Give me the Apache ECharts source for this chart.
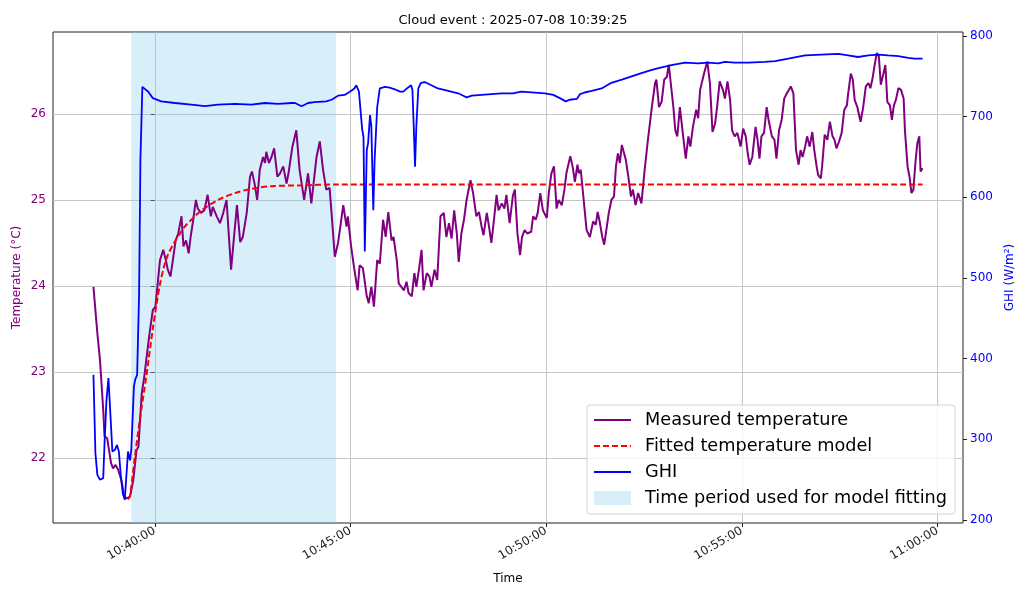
<!DOCTYPE html>
<html lang="en">
<head>
    <meta charset="UTF-8">
    <title>Cloud event</title>
    <script src="https://cdn.jsdelivr.net/npm/echarts@6/dist/echarts.min.js"></script>
    <style>
        html, body { margin: 0; padding: 0; background: #fff; }
    </style>
</head>
<body>
    <div id="main" style="width: 1024px;height:597px;"></div>
    <script type="text/javascript">

        // x values are seconds after 10:40:00
        const timeTicks = [0, 300, 600, 900, 1200];
        const tempTicks = [22, 23, 24, 25, 26];
        const ghiTicks = [200, 300, 400, 500, 600, 700, 800];
        const fitWindow = [-36, 278];

        const measuredTemp = [
            [-94, 23.99], [-88, 23.45], [-84, 23.14], [-79, 22.56], [-77, 22.25], [-73, 22.23], [-67, 21.94],
            [-64, 21.88], [-60, 21.92], [-56, 21.86], [-51, 21.74], [-47, 21.55], [-43, 21.53], [-38, 21.55],
            [-33, 21.74], [-28, 22.09], [-25, 22.13], [-20, 22.75], [-16, 22.95], [-13, 23.14], [-8, 23.45],
            [-3, 23.72], [1, 23.76], [4, 23.99], [8, 24.30], [13, 24.42], [17, 24.30], [20, 24.19], [24, 24.11],
            [27, 24.26], [32, 24.53], [36, 24.61], [41, 24.81], [44, 24.46], [48, 24.53], [52, 24.38], [55, 24.57],
            [59, 24.77], [63, 25.00], [66, 24.90], [71, 24.85], [76, 24.88], [81, 25.06], [86, 24.81], [89, 24.92],
            [95, 24.81], [100, 24.73], [105, 24.85], [110, 25.00], [117, 24.19], [121, 24.53], [126, 24.94],
            [131, 24.51], [135, 24.57], [141, 24.85], [146, 25.27], [149, 25.33], [153, 25.19], [157, 25.00],
            [161, 25.35], [166, 25.50], [169, 25.43], [171, 25.56], [175, 25.43], [179, 25.50], [183, 25.60],
            [188, 25.27], [192, 25.31], [197, 25.39], [202, 25.19], [205, 25.31], [211, 25.62], [217, 25.81],
            [222, 25.35], [229, 25.00], [235, 25.31], [240, 24.96], [248, 25.50], [253, 25.68], [258, 25.35],
            [263, 25.12], [268, 25.14], [271, 24.85], [276, 24.34], [281, 24.50], [289, 24.94], [294, 24.69],
            [296, 24.81], [301, 24.46], [306, 24.19], [311, 23.95], [314, 24.24], [319, 24.21], [325, 23.88],
            [328, 23.80], [332, 23.99], [336, 23.76], [341, 24.30], [345, 24.26], [350, 24.77], [354, 24.57],
            [358, 24.86], [363, 24.53], [366, 24.57], [371, 24.30], [374, 24.03], [378, 23.99], [382, 23.95],
            [386, 24.05], [389, 23.92], [394, 23.88], [398, 24.15], [401, 23.99], [405, 24.19], [409, 24.42],
            [412, 23.95], [417, 24.15], [421, 24.11], [424, 23.99], [429, 24.19], [433, 24.07], [438, 24.81],
            [443, 24.85], [447, 24.57], [451, 24.73], [455, 24.55], [459, 24.88], [463, 24.61], [466, 24.28],
            [470, 24.61], [474, 24.77], [478, 25.00], [484, 25.23], [488, 25.08], [493, 24.81], [497, 24.86],
            [501, 24.69], [504, 24.59], [509, 24.85], [512, 24.71], [516, 24.50], [520, 24.77], [524, 25.06],
            [527, 24.88], [532, 24.96], [536, 24.90], [539, 25.06], [544, 24.73], [549, 25.05], [552, 25.12],
            [556, 24.61], [560, 24.36], [563, 24.57], [567, 24.65], [571, 24.61], [577, 24.63], [580, 24.81],
            [584, 24.77], [587, 24.85], [591, 25.08], [595, 24.88], [601, 24.79], [604, 25.08], [608, 25.31],
            [612, 25.39], [616, 24.90], [619, 25.00], [624, 24.94], [628, 25.12], [631, 25.31], [637, 25.51],
            [641, 25.37], [644, 25.21], [648, 25.41], [650, 25.31], [653, 25.35], [657, 25.04], [662, 24.65],
            [667, 24.57], [672, 24.75], [676, 24.71], [679, 24.86], [682, 24.75], [686, 24.57], [689, 24.48],
            [693, 24.69], [696, 24.85], [700, 25.00], [704, 25.04], [707, 25.39], [710, 25.54], [713, 25.43],
            [716, 25.64], [722, 25.47], [726, 25.27], [730, 25.04], [733, 25.12], [737, 24.94], [741, 25.08],
            [746, 24.96], [751, 25.35], [756, 25.70], [762, 26.08], [767, 26.36], [769, 26.40], [773, 26.08],
            [777, 26.14], [781, 26.40], [785, 26.43], [788, 26.57], [791, 26.36], [795, 26.08], [798, 25.81],
            [801, 25.74], [805, 26.08], [810, 25.74], [814, 25.48], [818, 25.74], [821, 25.62], [825, 25.85],
            [830, 26.05], [833, 25.95], [836, 26.28], [842, 26.47], [847, 26.61], [851, 26.36], [855, 25.79],
            [859, 25.89], [862, 26.08], [866, 26.38], [869, 26.40], [871, 26.28], [874, 26.18], [878, 26.38],
            [882, 26.16], [885, 25.81], [889, 25.74], [893, 25.78], [895, 25.72], [898, 25.62], [902, 25.83],
            [906, 25.74], [909, 25.54], [912, 25.41], [916, 25.50], [921, 25.85], [924, 25.70], [927, 25.48],
            [930, 25.74], [934, 25.78], [938, 26.08], [941, 25.93], [946, 25.74], [950, 25.70], [953, 25.48],
            [957, 25.81], [961, 25.93], [965, 26.18], [969, 26.24], [972, 26.28], [975, 26.32], [979, 26.24],
            [983, 25.58], [987, 25.41], [990, 25.58], [993, 25.50], [997, 25.62], [1000, 25.74], [1004, 25.62],
            [1008, 25.79], [1011, 25.58], [1015, 25.37], [1017, 25.29], [1021, 25.25], [1023, 25.39], [1027, 25.76],
            [1031, 25.70], [1035, 25.91], [1039, 25.74], [1042, 25.70], [1045, 25.60], [1049, 25.68], [1053, 25.78],
            [1057, 26.05], [1061, 26.10], [1063, 26.24], [1067, 26.47], [1070, 26.40], [1073, 26.16], [1077, 26.08],
            [1082, 25.91], [1086, 26.08], [1090, 26.32], [1094, 26.36], [1097, 26.30], [1100, 26.40], [1104, 26.59],
            [1107, 26.71], [1110, 26.67], [1113, 26.34], [1117, 26.47], [1120, 26.57], [1123, 26.14], [1127, 26.10],
            [1130, 25.93], [1133, 26.10], [1136, 26.16], [1140, 26.30], [1144, 26.28], [1148, 26.18], [1150, 25.81],
            [1154, 25.39], [1157, 25.27], [1160, 25.08], [1163, 25.12], [1166, 25.43], [1169, 25.66], [1172, 25.74],
            [1174, 25.33], [1177, 25.37]
        ];

        const fittedTemp = [
            [-41, 21.52], [-38, 21.56], [-31, 21.98], [-23, 22.44], [-13, 22.95], [-3, 23.50], [3, 23.80],
            [8, 24.02], [14, 24.22], [20, 24.36], [28, 24.48], [36, 24.58], [46, 24.69], [56, 24.77],
            [72, 24.88], [97, 25.00], [123, 25.08], [148, 25.13], [179, 25.16], [225, 25.17], [278, 25.18],
            [1177, 25.18]
        ];

        const ghi = [
            [-94, 380], [-91, 283], [-88, 256], [-84, 250], [-79, 252], [-77, 295], [-74, 349], [-71, 376],
            [-67, 316], [-65, 285], [-61, 287], [-58, 293], [-55, 285], [-52, 254], [-49, 233], [-46, 225],
            [-43, 227], [-41, 285], [-38, 274], [-36, 287], [-32, 365], [-30, 374], [-27, 380], [-24, 481],
            [-22, 646], [-19, 737], [-16, 739], [-10, 731], [-3, 723], [10, 719], [31, 717], [56, 715],
            [77, 713], [97, 715], [123, 716], [148, 715], [169, 717], [189, 716], [210, 717], [215, 717],
            [225, 713], [235, 717], [245, 718], [263, 719], [271, 721], [281, 726], [291, 727], [299, 731],
            [306, 735], [309, 739], [313, 731], [316, 729], [318, 684], [320, 675], [322, 533], [325, 659],
            [327, 667], [330, 702], [332, 688], [335, 584], [337, 646], [341, 712], [345, 735], [353, 737],
            [360, 736], [368, 734], [376, 731], [381, 731], [388, 736], [393, 739], [395, 733], [397, 688],
            [399, 638], [401, 688], [404, 735], [408, 742], [414, 743], [424, 739], [434, 735], [450, 732],
            [465, 729], [473, 726], [478, 724], [486, 726], [501, 727], [516, 728], [532, 729], [549, 729],
            [562, 731], [598, 729], [611, 727], [621, 723], [630, 719], [636, 721], [647, 722], [652, 728],
            [659, 730], [670, 732], [685, 735], [700, 742], [716, 746], [731, 750], [746, 754], [762, 758],
            [777, 761], [792, 764], [813, 767], [833, 766], [848, 767], [864, 766], [874, 768], [889, 767],
            [910, 767], [935, 768], [951, 769], [971, 772], [997, 776], [1022, 777], [1048, 778], [1063, 776],
            [1078, 774], [1094, 776], [1109, 777], [1124, 776], [1140, 775], [1155, 773], [1165, 772], [1177, 772]
        ];

        function clock(s) {
            const t = 10 * 3600 + 40 * 60 + s;
            const pad = function (n) { return (n < 10 ? '0' : '') + n; };
            return pad(Math.floor(t / 3600)) + ':' + pad(Math.floor(t / 60) % 60) + ':' + pad(t % 60);
        }

        var chartDom = document.getElementById('main');
        var myChart = echarts.init(chartDom, null, { renderer: 'canvas' });
        var font = 'DejaVu Sans';
        var shade = 'rgba(135,206,235,0.32)';
        var option;

        option = {
            animation: false,
            backgroundColor: '#fff',
            textStyle: { fontFamily: font },
            title: {
                text: 'Cloud event : 2025-07-08 10:39:25',
                left: 508,
                top: 9,
                textAlign: 'center',
                textStyle: { fontFamily: font, fontSize: 13, fontWeight: 'normal', color: '#000' }
            },
            grid: {
                left: 53,
                right: 61,
                top: 32,
                bottom: 74,
                show: true,
                borderColor: '#222',
                borderWidth: 1,
                containLabel: false
            },
            legend: {
                orient: 'vertical',
                left: 587,
                top: 405,
                padding: [6, 8, 7, 6],
                itemGap: 8,
                itemWidth: 37,
                itemHeight: 14,
                backgroundColor: 'rgba(255,255,255,0.8)',
                borderColor: '#d4d4d4',
                borderWidth: 1,
                borderRadius: 3,
                // hide the marker dot, keep the line sample
                itemStyle: { opacity: 0 },
                textStyle: { fontFamily: font, fontSize: 17.7, color: '#000', padding: [0, 0, 0, 9] },
                data: [
                    { name: 'Measured temperature' },
                    { name: 'Fitted temperature model' },
                    { name: 'GHI' },
                    { name: 'Time period used for model fitting', icon: 'rect', itemStyle: { opacity: 1, color: shade } }
                ]
            },
            xAxis: {
                type: 'value',
                min: -156,
                max: 1239,
                name: 'Time',
                nameLocation: 'middle',
                nameGap: 50,
                nameMoveOverlap: false,
                nameTextStyle: { fontFamily: font, fontSize: 12, color: '#000' },
                axisLine: { show: false },
                axisTick: { show: true, length: 4, customValues: timeTicks, lineStyle: { color: '#222' } },
                axisLabel: {
                    customValues: timeTicks,
                    rotate: 30,
                    margin: 7,
                    fontSize: 12,
                    color: '#222',
                    formatter: function (v) { return clock(v); }
                },
                splitLine: { show: true, lineStyle: { color: '#c6c6c6', width: 1 } }
            },
            yAxis: [
                {
                    type: 'value',
                    min: 21.244,
                    max: 26.953,
                    name: 'Temperature (°C)',
                    nameLocation: 'middle',
                    nameRotate: 90,
                    nameGap: 30,
                    nameMoveOverlap: false,
                    nameTextStyle: { fontFamily: font, fontSize: 12, color: '#800080' },
                    axisLine: { show: false },
                    axisTick: { show: true, length: 4, customValues: tempTicks, lineStyle: { color: '#222' } },
                    axisLabel: { customValues: tempTicks, fontSize: 12, color: '#800080', margin: 7 },
                    splitLine: { show: true, lineStyle: { color: '#c6c6c6', width: 1 } }
                },
                {
                    type: 'value',
                    position: 'right',
                    min: 196.3,
                    max: 805,
                    name: 'GHI (W/m²)',
                    nameLocation: 'middle',
                    nameRotate: 90,
                    nameGap: 41,
                    nameTextStyle: { fontFamily: font, fontSize: 12, color: '#0000ff' },
                    axisLine: { show: false },
                    axisTick: { show: true, length: 4, customValues: ghiTicks, lineStyle: { color: '#222' } },
                    axisLabel: { customValues: ghiTicks, fontSize: 12, color: '#0000ff', margin: 7 },
                    splitLine: { show: false }
                }
            ],
            series: [
                {
                    name: 'Time period used for model fitting',
                    type: 'bar',
                    data: [],
                    z: 0,
                    itemStyle: { color: shade },
                    markArea: {
                        silent: true,
                        itemStyle: { color: shade },
                        data: [[{ xAxis: fitWindow[0] }, { xAxis: fitWindow[1] }]]
                    }
                },
                {
                    name: 'Measured temperature',
                    type: 'line',
                    yAxisIndex: 0,
                    data: measuredTemp,
                    symbol: 'none',
                    z: 2,
                    lineStyle: { color: '#800080', width: 2 },
                    itemStyle: { color: '#800080' }
                },
                {
                    name: 'Fitted temperature model',
                    type: 'line',
                    yAxisIndex: 0,
                    data: fittedTemp,
                    symbol: 'none',
                    smooth: 0.3,
                    z: 3,
                    lineStyle: { color: '#ff0000', width: 2, type: [6, 3] },
                    itemStyle: { color: '#ff0000' }
                },
                {
                    name: 'GHI',
                    type: 'line',
                    yAxisIndex: 1,
                    data: ghi,
                    symbol: 'none',
                    z: 4,
                    lineStyle: { color: '#0000ff', width: 1.8 },
                    itemStyle: { color: '#0000ff' }
                }
            ]
        };

        option && myChart.setOption(option);

    </script>
</body>
</html>
